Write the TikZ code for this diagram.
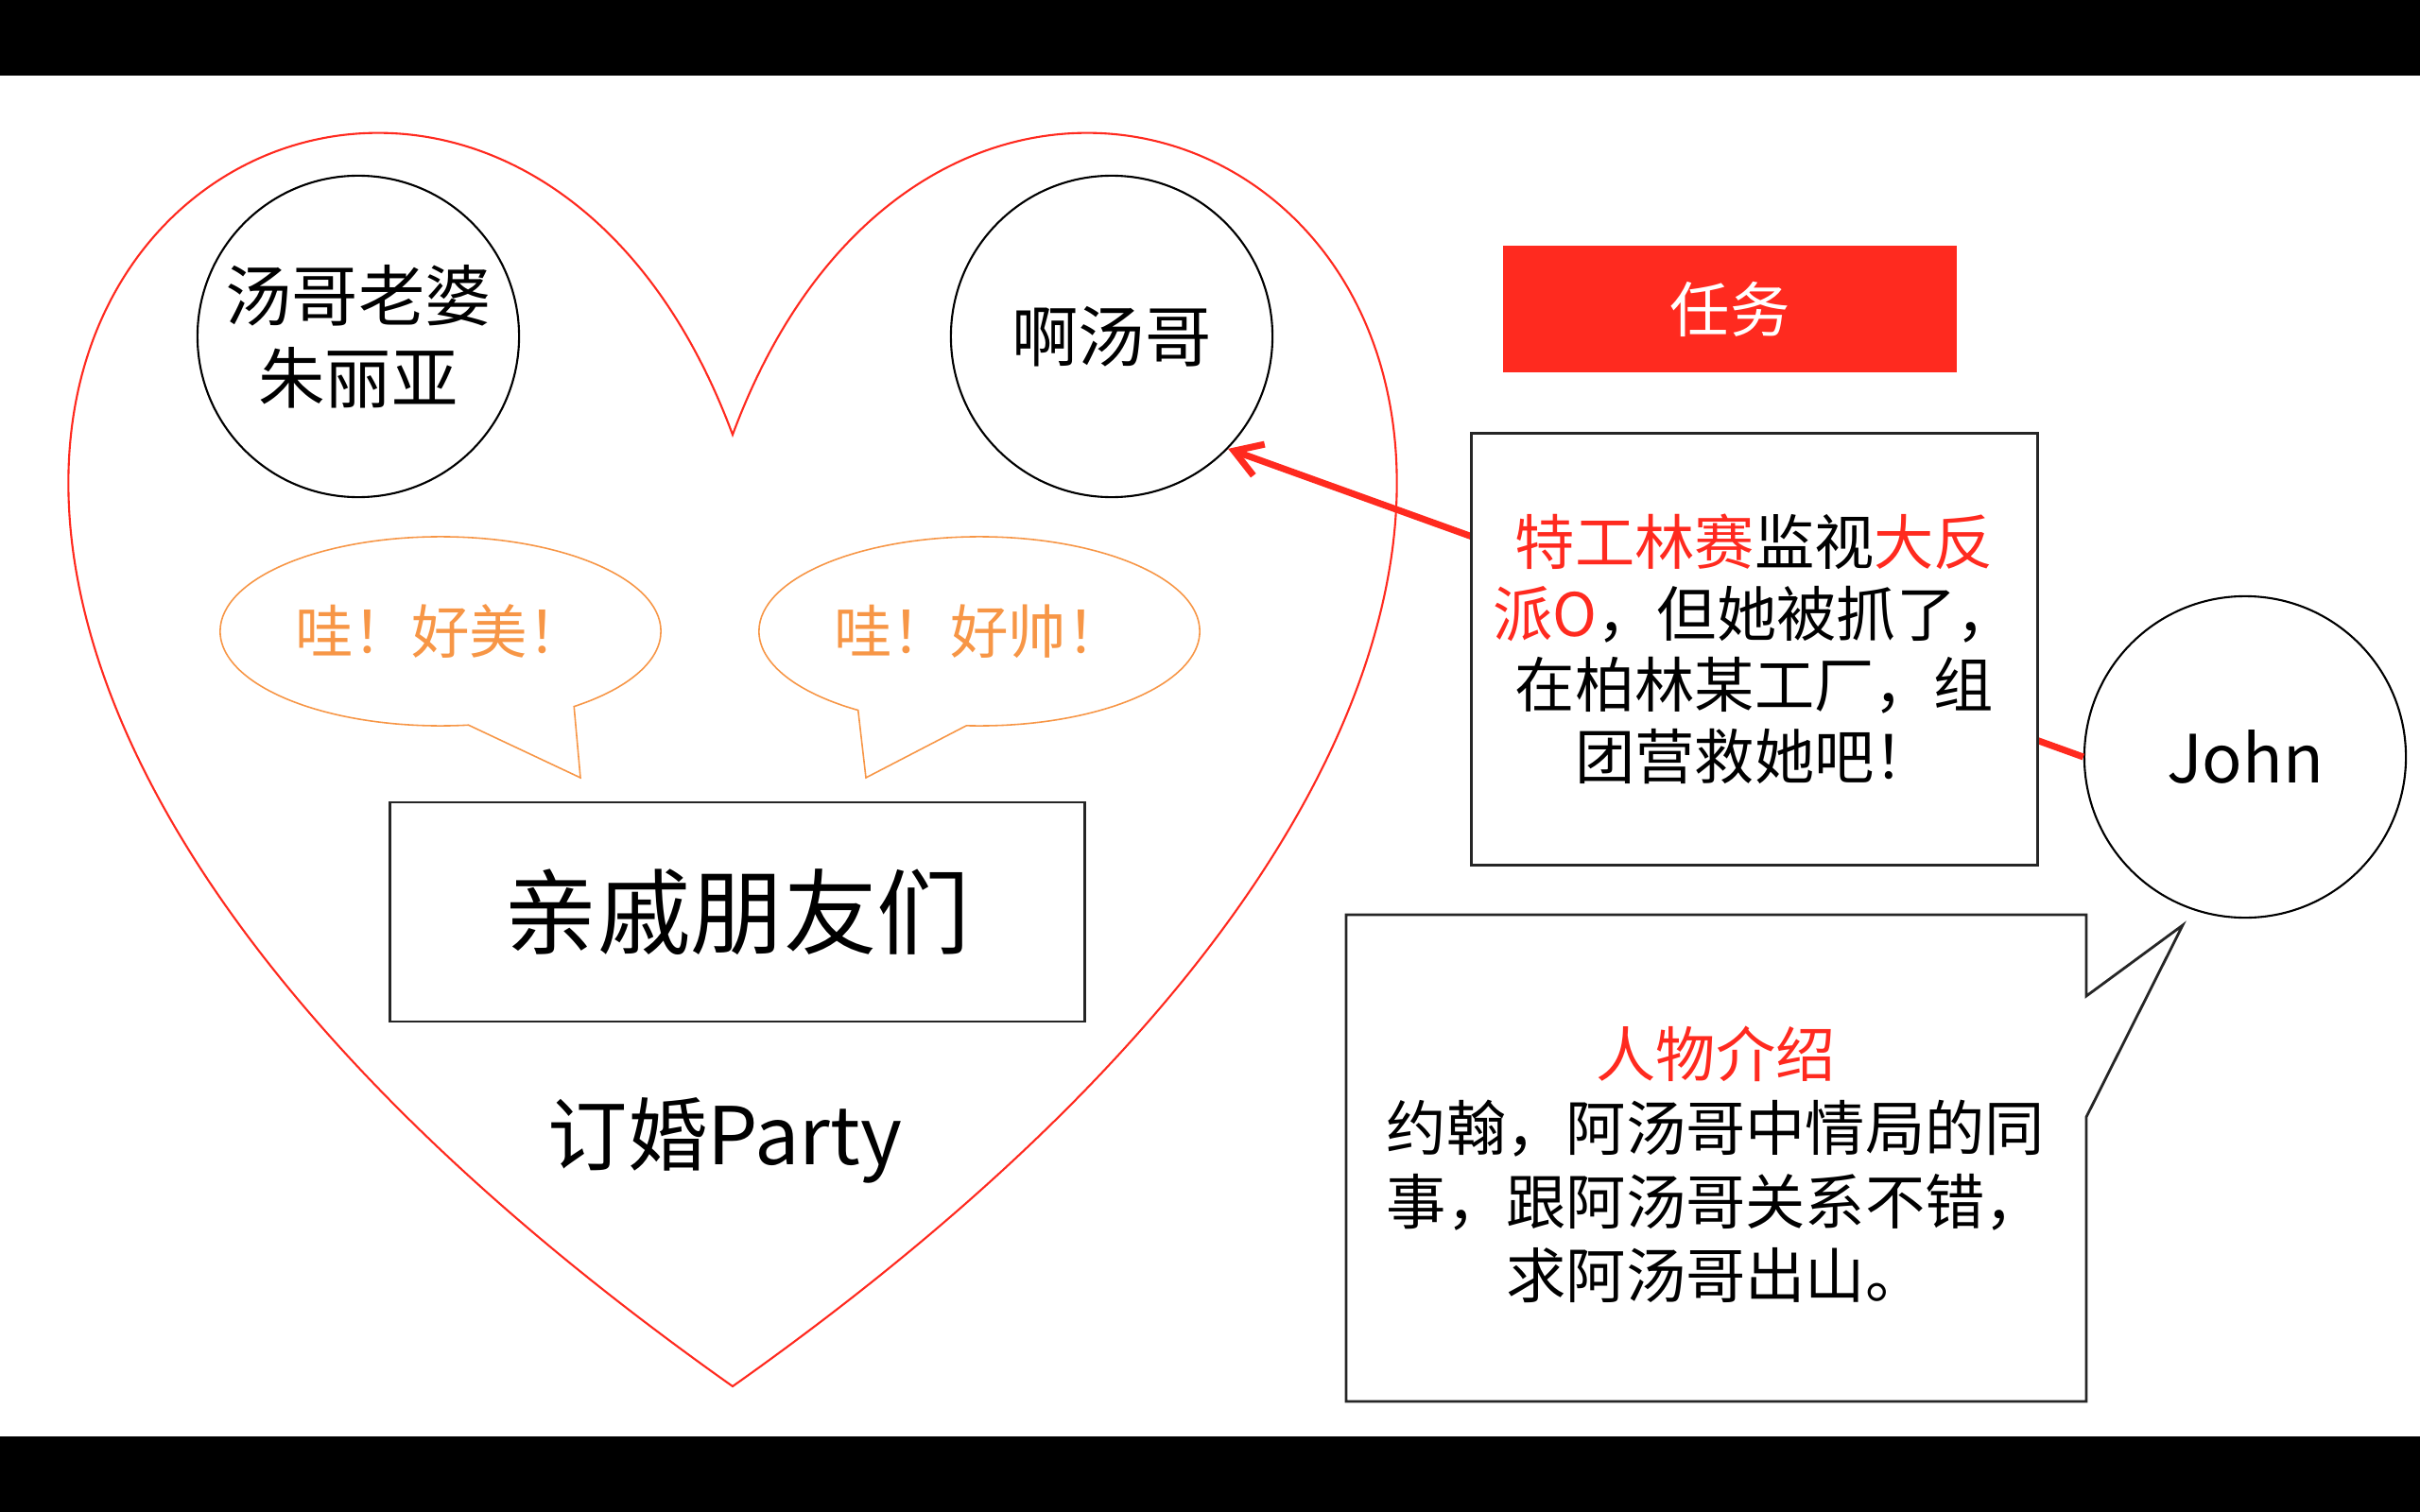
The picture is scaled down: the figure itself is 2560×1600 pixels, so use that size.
\documentclass[tikz,border=0pt]{standalone}
\usepackage{fontspec}
\setmainfont{Noto Sans CJK SC}
\usetikzlibrary{arrows.meta,positioning,shapes.callouts}
\definecolor{Alarm}{HTML}{FF2A1F}
\definecolor{Cheer}{HTML}{F79646}
\tikzset{
  role/.style={circle,draw=black,line width=.6pt,fill=white,minimum size=3.4cm,inner sep=0pt,align=center,font=\fontsize{20pt}{24.8pt}\selectfont},
  plainbox/.style={rectangle,draw=black!85,line width=.8pt,fill=white,inner sep=0pt},
  txt/.style={align=center,font=\fontsize{18pt}{21.5pt}\selectfont},
  cheer/.style={ellipse callout,draw=Cheer,line width=.45pt,fill=white,text=Cheer,minimum width=4.66cm,minimum height=2cm,inner sep=0pt,callout pointer arc=30,font=\fontsize{17.5pt}{21pt}\selectfont},
  heartline/.style={draw=Alarm,line width=.6pt},
  spy/.style={-{Straight Barb[length=8pt,width=10pt]},draw=Alarm,line width=2pt}
}
\begin{document}
\begin{tikzpicture}[x=0.01cm,y=-0.01cm]
  \useasboundingbox (0,0) rectangle (2560,1600);
  \fill[white] (0,0) rectangle (2560,1600);
  \fill[black] (0,0) rectangle (2560,80);
  \fill[black] (0,1520) rectangle (2560,1600);
  % the party
  \draw[heartline] (775,460) .. controls (1066,-324) and (2199,460) .. (775,1467)
    .. controls (-649,460) and (484,-324) .. (775,460) -- cycle;
  \node[role] (wife) at (379,356) {汤哥老婆\\朱丽亚};
  \node[role] (atang) at (1176,356) {啊汤哥};
  \node[cheer,callout absolute pointer={(614,823)}] (wow1) at (466,668) {哇！好美！};
  \node[cheer,callout absolute pointer={(916,823)}] (wow2) at (1036,668) {哇！好帅！};
  \node[plainbox,minimum width=7.35cm,minimum height=2.32cm,font=\fontsize{28pt}{33pt}\selectfont] (kin) at (780,965) {亲戚朋友们};
  \node[font=\fontsize{24pt}{29pt}\selectfont] (party) at (767,1207) {订婚Party};
  % the mission
  \node[role] (john) at (2375,801) {John};
  \draw[spy] (john.west) -- (atang.-44);
  \node[rectangle,fill=Alarm,minimum width=4.79cm,minimum height=1.33cm,text=white,font=\fontsize{18pt}{21pt}\selectfont] (task) at (1830,327) {任务};
  \node[plainbox,txt,minimum width=5.99cm,minimum height=4.56cm] (brief) at (1856,687)
    {{\color{Alarm}特工林赛}监视{\color{Alarm}大反}\\{\color{Alarm}派O}，但她被抓了，\\在柏林某工厂，组\\团营救她吧！};
  \coordinate (johnptr) at (2309,979);
  \draw[draw=black!85,line width=.8pt,fill=white] (1424,968) -- (2207,968) -- (2207,1054) -- (johnptr)
    -- (2207,1182) -- (2207,1483) -- (1424,1483) -- cycle;
  \node[txt,font=\fontsize{18pt}{22.2pt}\selectfont] (intro) at (1815,1232)
    {{\color{Alarm}人物介绍}\\约翰，阿汤哥中情局的同\\事，跟阿汤哥关系不错，\\求阿汤哥出山。};
\end{tikzpicture}
\end{document}
